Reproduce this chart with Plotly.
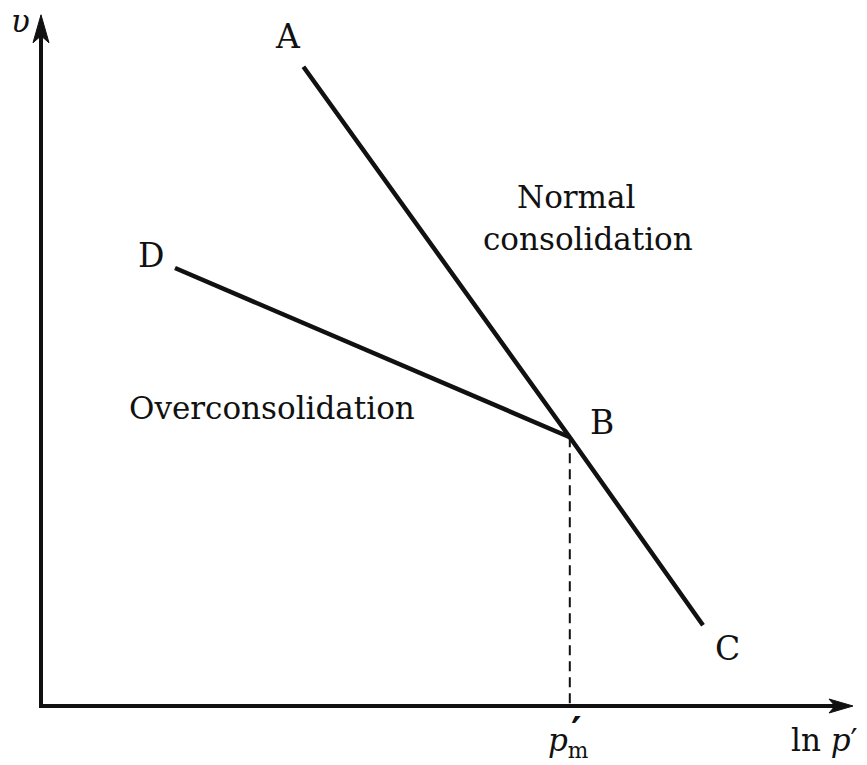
import plotly.graph_objects as go

# Idealised consolidation behaviour: specific volume v against ln p'
# Normal compression line A-B-C and unloading/reloading line D-B
ncl_labels = ["A", "B", "C"]
ncl_lnp = [3.28, 6.61, 8.275]
ncl_v = [7.99, 3.36, 1.01]

url_labels = ["D", "B"]
url_lnp = [1.675, 6.61]
url_v = [5.475, 3.36]

# preconsolidation pressure p'_m (in ln p' units)
pm_lnp = 6.61
pm_v = 3.36

x_tip = 10.15   # end of the ln p' axis
y_tip = 8.64    # end of the v axis

SERIF = "DejaVu Serif"
INK = "#111111"

fig = go.Figure()

fig.add_trace(go.Scatter(x=ncl_lnp, y=ncl_v, mode="lines",
                         line=dict(color=INK, width=4.5), hoverinfo="skip"))
fig.add_trace(go.Scatter(x=url_lnp, y=url_v, mode="lines",
                         line=dict(color=INK, width=4.5), hoverinfo="skip"))
fig.add_trace(go.Scatter(x=[pm_lnp, pm_lnp], y=[pm_v, 0], mode="lines",
                         line=dict(color=INK, width=2, dash="10px,6px"),
                         hoverinfo="skip"))

# axes drawn as lines
fig.add_trace(go.Scatter(x=[0, 0, x_tip - 0.1], y=[y_tip - 0.1, 0, 0], mode="lines",
                         line=dict(color=INK, width=4), hoverinfo="skip"))

shapes = [
    # arrowhead on v axis
    dict(type="path", xref="x", yref="y", xsizemode="pixel", ysizemode="pixel",
         xanchor=0, yanchor=y_tip,
         path="M0,0 L-8,-28 L0,-21 L8,-28 Z",
         fillcolor=INK, line=dict(color=INK, width=1)),
    # arrowhead on ln p' axis
    dict(type="path", xref="x", yref="y", xsizemode="pixel", ysizemode="pixel",
         xanchor=x_tip, yanchor=0,
         path="M0,0 L-24,7 L-18,0 L-24,-7 Z",
         fillcolor=INK, line=dict(color=INK, width=1)),
]

ann = []
def label(x, y, text, size, xanchor="center"):
    ann.append(dict(x=x, y=y, xref="x", yref="y", text=text, showarrow=False,
                    xanchor=xanchor, yanchor="middle",
                    font=dict(family=SERIF, size=size, color=INK)))

label(3.0875, 8.37, "A", 33)
label(1.375, 5.63, "D", 33)
label(7.0125, 3.54, "B", 33)
label(8.58, 0.72, "C", 33)
label(6.6875, 6.36, "Normal", 31)
label(6.8375, 5.84, "consolidation", 31)
label(2.8875, 3.72, "Overconsolidation", 31)
label(-0.26, 8.56, "<i>υ</i>", 31)
label(pm_lnp - 0.02, -0.45, "<i>p</i><sub>m</sub>", 31)
label(pm_lnp + 0.08, -0.31, "<b>′</b>", 40)
label(9.79, -0.42, "ln <i>p</i>′", 31)

fig.update_layout(
    width=867, height=765,
    margin=dict(l=0, r=0, t=0, b=0),
    paper_bgcolor="white", plot_bgcolor="white",
    showlegend=False,
    xaxis=dict(range=[-0.5125, 10.325], visible=False, fixedrange=True),
    yaxis=dict(range=[-0.7375, 8.825], visible=False, fixedrange=True),
    shapes=shapes,
    annotations=ann,
)

fig.write_html("out.html")
